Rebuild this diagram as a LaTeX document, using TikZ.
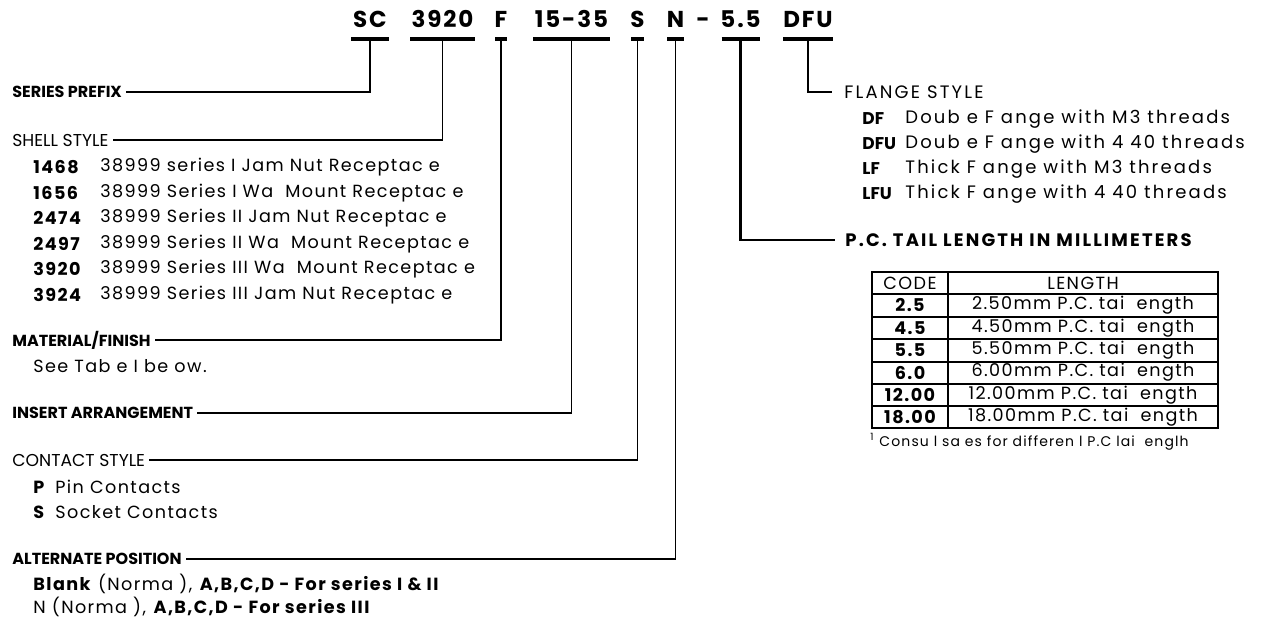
\documentclass[tikz,border=0pt]{standalone}
\usepackage{fontspec}
\setmainfont{Poppins}
\usetikzlibrary{positioning}
\newcommand\diagbody{\fontsize{8.8}{10}\selectfont\addfontfeatures{LetterSpace=8}}
\newcommand\diagwide{\fontsize{9}{10}\selectfont\addfontfeatures{LetterSpace=12}}

\begin{document}
\begin{tikzpicture}[x=0.5pt, y=-0.5pt, line cap=butt, line join=miter,
  code/.style={font=\fontsize{11.5}{12}\selectfont\addfontfeatures{LetterSpace=8}\bfseries, inner sep=0pt, anchor=base},
  bar/.style={line width=2pt},
  head/.style={anchor=west, inner xsep=2pt, inner ysep=0pt, font=\fontsize{8.6}{9}\selectfont},
  headb/.style={head, font=\fontsize{8}{9}\selectfont\bfseries},
  headr/.style={head, font=\diagwide},
  item/.style={anchor=west, inner sep=0pt, font=\diagbody},
  itemb/.style={item, font=\diagbody\bfseries},
  lead/.style={line width=0.65pt},
  tab/.style={line width=1pt},
  cell/.style={inner sep=0pt, font=\diagbody}]
\useasboundingbox (0,0) rectangle (1264,619);

\foreach \x/\w/\t/\n in {370/38/SC/sc, 442.5/65/3920/sh, 501/12/F/mf, 571.5/77/15-35/ia, 637.5/13/S/cs, 675.5/17/N/ap, 740.5/38/5.5/tl, 808/50/DFU/fs} {
  \node[code] (\n) at (\x,28) {\t};
  \draw[bar] (\x-\w/2,39.5) -- (\x+\w/2,39.5);
  \coordinate (\n s) at (\x,41);
}
\node[code] (dash) at (703,28) {-};

\node[headb] (pre) at (8,92) {SERIES PREFIX};
\node[head] (she) at (8,140) {SHELL STYLE};
\foreach \y/\c/\t in {167/1468/38999 series I Jam Nut Receptac e,
    192.6/1656/38999 Series I Wa~~Mount Receptac e,
    218/2474/38999 Series II Jam Nut Receptac e,
    243.8/2497/38999 Series II Wa~~Mount Receptac e,
    269.4/3920/38999 Series III Wa~~Mount Receptac e,
    295/3924/38999 Series III Jam Nut Receptac e} {
  \node[itemb] (c\c) at (33,\y) {\c};
  \node[item] (d\c) at (100,\y) {\t};
}

\node[headb] (mat) at (8,340) {MATERIAL/FINISH};
\node[item] (matx) at (33,366) {See Tab e I be ow.};

\node[headb] (ins) at (8,413) {INSERT ARRANGEMENT};

\node[head] (con) at (8,460) {CONTACT STYLE};
\node[itemb] (cp) at (33,487) {P};
\node[item] (dp) at (55,487) {Pin Contacts};
\node[itemb] (cs2) at (33,512) {S};
\node[item] (ds) at (55,512) {Socket Contacts};

\node[headb] (alt) at (8,559) {ALTERNATE POSITION};
\node[item] (alt1) at (33,584) {\textbf{Blank} (Norma ), \textbf{A,B,C,D - For series I \& II}};
\node[item] (alt2) at (33,607) {N (Norma ), \textbf{A,B,C,D - For series III}};

\node[headr] (fla) at (840,92) {FLANGE STYLE};
\foreach \y/\c/\t in {119/DF/Doub e F ange with M3 threads,
    144/DFU/Doub e F ange with 4 40 threads,
    169/LF/Thick F ange with M3 threads,
    194/LFU/Thick F ange with 4 40 threads} {
  \node[item, font=\fontsize{8.5}{9}\selectfont\bfseries] (f\c) at (862,\y) {\c};
  \node[item, font=\diagwide] (g\c) at (905,\y) {\t};
}

\node[headr, font=\diagwide\bfseries] (tai) at (841,240) {P.C. TAIL LENGTH IN MILLIMETERS};

\draw[tab] (872,272) rectangle (1218,428.4);
\draw[tab] (948,272) -- (948,428.4);
\foreach \i in {1,...,6}
  \draw[tab] (872,{272+22.4*\i}) -- (1218,{272+22.4*\i});
\node[cell] (hcode) at (910,283) {CODE};
\node[cell] (hlen) at (1083,283) {LENGTH};
\foreach \c/\t [count=\i] in {2.5/2.50mm P.C. tai~~ength, 4.5/4.50mm P.C. tai~~ength,
    5.5/5.50mm P.C. tai~~ength, 6.0/6.00mm P.C. tai~~ength,
    12.00/12.00mm P.C. tai~~ength, 18.00/18.00mm P.C. tai~~ength} {
  \node[cell, font=\diagbody\bfseries] (k\i) at (910,{283+22.4*\i}) {\c};
  \node[cell] (v\i) at (1083,{283+22.4*\i}) {\t};
}
\node[item, font=\fontsize{7}{8}\selectfont\addfontfeatures{LetterSpace=8}] (note) at (870,442) {\textsuperscript{1} Consu l sa es for differen l P.C lai~~englh};

\draw[lead, line width=1pt] (scs) |- (pre.east);
\draw[lead] (shs) |- (she.east);
\draw[lead, line width=1.3pt] (mfs) |- (mat.east);
\draw[lead] (ias) |- (ins.east);
\draw[lead] (css) |- (con.east);
\draw[lead] (aps) |- (alt.east);
\draw[lead, line width=1.3pt] (tls) |- ([xshift=-3pt]tai.west);
\draw[lead] (fss) |- ([xshift=-4pt]fla.west);
\end{tikzpicture}
\end{document}
